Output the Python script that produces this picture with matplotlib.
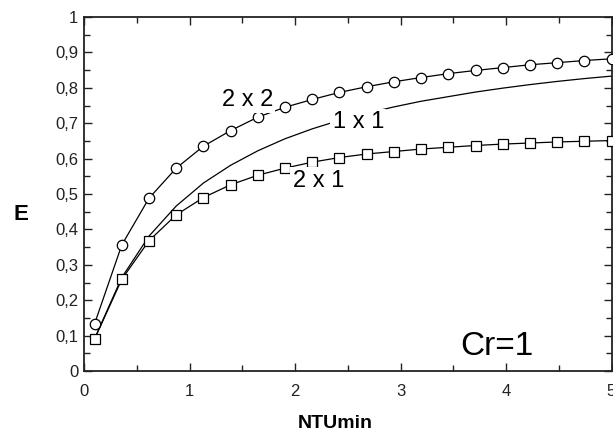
import matplotlib
matplotlib.use("Agg")
import matplotlib.pyplot as plt
from matplotlib.ticker import MultipleLocator, FuncFormatter

plt.rcParams['font.family'] = ['Liberation Sans', 'DejaVu Sans']

ntu = [0.1, 0.358, 0.616, 0.874, 1.132, 1.389, 1.647, 1.905, 2.163, 2.421,
       2.679, 2.937, 3.195, 3.453, 3.711, 3.968, 4.226, 4.484, 4.742, 5.0]

e_2x2 = [0.133, 0.356, 0.488, 0.573, 0.635, 0.679, 0.717, 0.745, 0.767, 0.787,
         0.803, 0.817, 0.829, 0.840, 0.849, 0.857, 0.865, 0.871, 0.877, 0.882]

e_1x1 = [0.091, 0.264, 0.381, 0.466, 0.531, 0.581, 0.622, 0.656, 0.684, 0.708,
         0.728, 0.746, 0.762, 0.775, 0.788, 0.799, 0.809, 0.818, 0.826, 0.833]

e_2x1 = [0.090, 0.259, 0.368, 0.441, 0.490, 0.526, 0.553, 0.573, 0.590, 0.603,
         0.613, 0.620, 0.627, 0.632, 0.637, 0.641, 0.644, 0.647, 0.649, 0.651]

labels = ["2 x 2", "1 x 1", "2 x 1"]

fig = plt.figure(figsize=(6.13, 4.34), dpi=100)
ax = fig.add_axes([84/613, 63/434, 527.5/613, 354/434])

ax.plot(ntu, e_1x1, color='black', lw=0.9, zorder=2)
ax.plot(ntu, e_2x2, color='black', lw=0.9, marker='o', ms=7.5,
        mfc='white', mec='black', mew=0.9, zorder=3, clip_on=False)
ax.plot(ntu, e_2x1, color='black', lw=0.9, marker='s', ms=7.2,
        mfc='white', mec='black', mew=0.9, zorder=3, clip_on=False)

bb = dict(facecolor='white', edgecolor='none', pad=1.5)
ax.text(1.547, 0.765, labels[0], fontsize=17, ha='center', va='center', bbox=bb, zorder=5)
ax.text(2.60, 0.703, labels[1], fontsize=17, ha='center', va='center', bbox=bb, zorder=5)
ax.text(2.22, 0.538, labels[2], fontsize=17, ha='center', va='center', bbox=bb, zorder=5)
ax.text(3.91, 0.07, "Cr=1", fontsize=24, ha='center', va='center', zorder=5)

ax.set_xlim(0, 5)
ax.set_ylim(0, 1)
ax.xaxis.set_major_locator(MultipleLocator(1))
ax.xaxis.set_minor_locator(MultipleLocator(0.5))
ax.yaxis.set_major_locator(MultipleLocator(0.1))
ax.yaxis.set_minor_locator(MultipleLocator(0.05))

def yfmt(v, pos):
    if abs(v) < 1e-9:
        return "0"
    if abs(v - 1) < 1e-9:
        return "1"
    return ("%.1f" % v).replace('.', ',')

ax.yaxis.set_major_formatter(FuncFormatter(yfmt))
ax.xaxis.set_major_formatter(FuncFormatter(lambda v, p: "%d" % round(v)))

ax.tick_params(which='both', direction='in', top=True, right=True,
               labelsize=12, colors='#222222', width=1.0)
ax.tick_params(which='major', length=6)
ax.tick_params(which='minor', length=4)
ax.tick_params(axis='x', which='major', pad=9)
ax.tick_params(axis='y', which='major', pad=4)
for s in ax.spines.values():
    s.set_linewidth(1.3)
    s.set_color('#222222')

fig.text(21/613, 1 - 215/434, "E", fontsize=16, fontweight='bold', ha='center', va='center')
fig.text(335/613, 1 - 423/434, "NTUmin", fontsize=14, fontweight='bold', ha='center', va='center')

fig.savefig("out.png", dpi=100)
